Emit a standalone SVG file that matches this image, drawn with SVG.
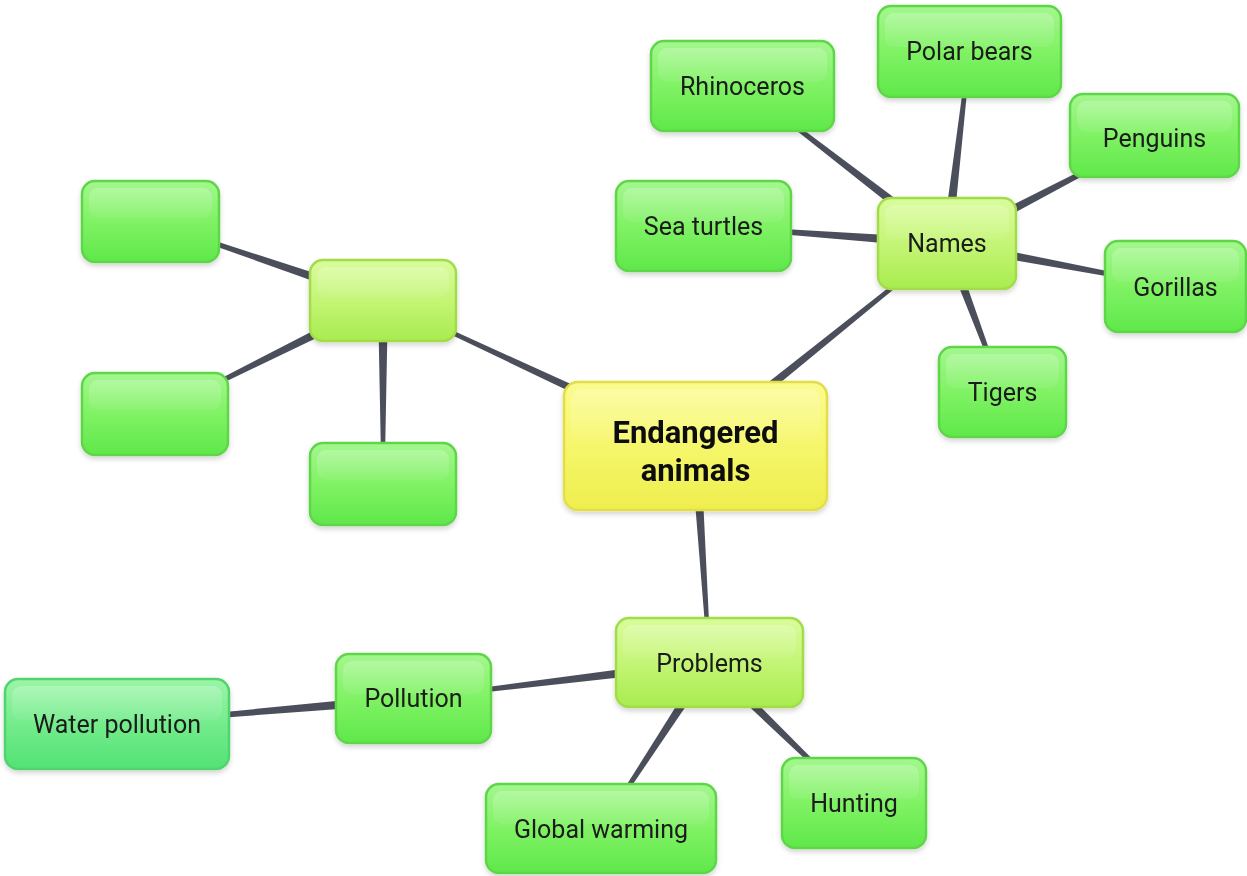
<svg xmlns="http://www.w3.org/2000/svg" width="1247" height="876" viewBox="0 0 1247 876">
<defs>
<linearGradient id="gLeaf" x1="0" y1="0" x2="0" y2="1">
<stop offset="0" stop-color="#a4f78e"/><stop offset="0.5" stop-color="#80f264"/><stop offset="1" stop-color="#5fe84a"/>
</linearGradient>
<linearGradient id="gWater" x1="0" y1="0" x2="0" y2="1">
<stop offset="0" stop-color="#9cf5a8"/><stop offset="0.5" stop-color="#74ec8c"/><stop offset="1" stop-color="#52e274"/>
</linearGradient>
<linearGradient id="gLime" x1="0" y1="0" x2="0" y2="1">
<stop offset="0" stop-color="#dafc9c"/><stop offset="0.5" stop-color="#c4f576"/><stop offset="1" stop-color="#a8ec4e"/>
</linearGradient>
<linearGradient id="gYellow" x1="0" y1="0" x2="0" y2="1">
<stop offset="0" stop-color="#fbfb8e"/><stop offset="0.5" stop-color="#f6f66c"/><stop offset="1" stop-color="#eeee4e"/>
</linearGradient>
<linearGradient id="gGloss" x1="0" y1="0" x2="0" y2="1">
<stop offset="0" stop-color="#ffffff" stop-opacity="0.22"/><stop offset="1" stop-color="#ffffff" stop-opacity="0.06"/>
</linearGradient>
<filter id="sh" x="-10%" y="-10%" width="120%" height="130%">
<feDropShadow dx="0" dy="3" stdDeviation="2.5" flood-color="#000" flood-opacity="0.16"/>
</filter>
</defs>
<style>
.leaf{fill:url(#gLeaf);stroke:#5fd64a;stroke-width:2.5}
.water{fill:url(#gWater);stroke:#50d46e;stroke-width:2.5}
.lime{fill:url(#gLime);stroke:#a2dc4c;stroke-width:2.5}
.yellow{fill:url(#gYellow);stroke:#e2de48;stroke-width:2.5}
.gloss{fill:url(#gGloss)}
.box{filter:url(#sh)}
.t{font-family:Roboto,"Liberation Sans",sans-serif;font-size:25px;fill:#1a1a1a;text-anchor:middle}
.tb{font-family:Roboto,"Liberation Sans",sans-serif;font-size:31px;font-weight:bold;fill:#111;text-anchor:middle}
.c{fill:#4b4f5b}
</style>
<rect width="1247" height="876" fill="#ffffff"/>
<g id="connectors">
<polygon class="c" points="698.6,449.9 947.9,244.7 946.1,242.3 692.4,442.1"/>
<polygon class="c" points="697.6,441.5 383.6,299.1 382.4,301.9 693.4,450.5"/>
<polygon class="c" points="690.5,446.3 708,662.6 711,662.4 700.5,445.7"/>
<polygon class="c" points="952,244.1 971,51.7 968,51.3 942,242.9"/>
<polygon class="c" points="950.1,239.5 743.4,84.8 741.6,87.2 944,247.5"/>
<polygon class="c" points="947.4,238.5 703.6,224.5 703.4,227.5 946.6,248.5"/>
<polygon class="c" points="949.3,247.9 1155.2,136.8 1153.8,134.2 944.7,239.1"/>
<polygon class="c" points="946.1,248.4 1175.2,288 1175.8,285 947.9,238.6"/>
<polygon class="c" points="942.3,245.3 1001.1,392.5 1003.9,391.5 951.7,241.7"/>
<polygon class="c" points="384.6,295.8 151,220.1 150,222.9 381.4,305.2"/>
<polygon class="c" points="380.8,296 154.3,412.7 155.7,415.3 385.2,305"/>
<polygon class="c" points="378,300.5 381.5,484 384.5,484 388,300.5"/>
<polygon class="c" points="708.9,657.5 413.3,697 413.7,700 710.1,667.5"/>
<polygon class="c" points="705.3,659.8 599.7,827.7 602.3,829.3 713.7,665.2"/>
<polygon class="c" points="706,666.1 853,804.1 855,801.9 713,658.9"/>
<polygon class="c" points="413.1,693.5 116.9,722.5 117.1,725.5 413.9,703.5"/>
</g>
<g id="center" class="box">
<rect class="yellow" x="564" y="382" width="263" height="128" rx="14"/>
<rect class="gloss" x="571" y="389" width="249" height="50" rx="10"/>
<text class="tb" x="695.5" y="443">Endangered</text>
<text class="tb" x="695.5" y="481">animals</text>
</g>
<g id="names" class="box">
<rect class="lime" x="878" y="198" width="138" height="91" rx="13"/>
<rect class="gloss" x="885" y="205" width="124" height="34" rx="9"/>
<text class="t" x="947" y="252">Names</text>
</g>
<g id="problems" class="box">
<rect class="lime" x="616" y="618" width="187" height="89" rx="13"/>
<rect class="gloss" x="623" y="625" width="173" height="33" rx="9"/>
<text class="t" x="709.5" y="672">Problems</text>
</g>
<g id="left-parent" class="box">
<rect class="lime" x="310" y="260" width="146" height="81" rx="13"/>
<rect class="gloss" x="317" y="267" width="132" height="30" rx="9"/>
</g>
<g id="polar-bears" class="box">
<rect class="leaf" x="878" y="6" width="183" height="91" rx="13"/>
<rect class="gloss" x="885" y="13" width="169" height="34" rx="9"/>
<text class="t" x="969.5" y="60">Polar bears</text>
</g>
<g id="rhinoceros" class="box">
<rect class="leaf" x="651" y="41" width="183" height="90" rx="13"/>
<rect class="gloss" x="658" y="48" width="169" height="34" rx="9"/>
<text class="t" x="742.5" y="95">Rhinoceros</text>
</g>
<g id="penguins" class="box">
<rect class="leaf" x="1070" y="94" width="169" height="83" rx="13"/>
<rect class="gloss" x="1077" y="101" width="155" height="31" rx="9"/>
<text class="t" x="1154.5" y="147">Penguins</text>
</g>
<g id="sea-turtles" class="box">
<rect class="leaf" x="616" y="181" width="175" height="90" rx="13"/>
<rect class="gloss" x="623" y="188" width="161" height="34" rx="9"/>
<text class="t" x="703.5" y="235">Sea turtles</text>
</g>
<g id="gorillas" class="box">
<rect class="leaf" x="1105" y="241" width="141" height="91" rx="13"/>
<rect class="gloss" x="1112" y="248" width="127" height="34" rx="9"/>
<text class="t" x="1175.5" y="296">Gorillas</text>
</g>
<g id="tigers" class="box">
<rect class="leaf" x="939" y="347" width="127" height="90" rx="13"/>
<rect class="gloss" x="946" y="354" width="113" height="34" rx="9"/>
<text class="t" x="1002.5" y="401">Tigers</text>
</g>
<g id="left-top" class="box">
<rect class="leaf" x="82" y="181" width="137" height="81" rx="13"/>
<rect class="gloss" x="89" y="188" width="123" height="30" rx="9"/>
</g>
<g id="left-mid" class="box">
<rect class="leaf" x="82" y="373" width="146" height="82" rx="13"/>
<rect class="gloss" x="89" y="380" width="132" height="30" rx="9"/>
</g>
<g id="left-bottom" class="box">
<rect class="leaf" x="310" y="443" width="146" height="82" rx="13"/>
<rect class="gloss" x="317" y="450" width="132" height="30" rx="9"/>
</g>
<g id="pollution" class="box">
<rect class="leaf" x="336" y="654" width="155" height="89" rx="13"/>
<rect class="gloss" x="343" y="661" width="141" height="33" rx="9"/>
<text class="t" x="413.5" y="707">Pollution</text>
</g>
<g id="water-pollution" class="box">
<rect class="water" x="5" y="679" width="224" height="90" rx="13"/>
<rect class="gloss" x="12" y="686" width="210" height="34" rx="9"/>
<text class="t" x="117" y="733">Water pollution</text>
</g>
<g id="global-warming" class="box">
<rect class="leaf" x="486" y="784" width="230" height="89" rx="13"/>
<rect class="gloss" x="493" y="791" width="216" height="33" rx="9"/>
<text class="t" x="601" y="838">Global warming</text>
</g>
<g id="hunting" class="box">
<rect class="leaf" x="782" y="758" width="144" height="90" rx="13"/>
<rect class="gloss" x="789" y="765" width="130" height="34" rx="9"/>
<text class="t" x="854" y="812">Hunting</text>
</g>
</svg>
